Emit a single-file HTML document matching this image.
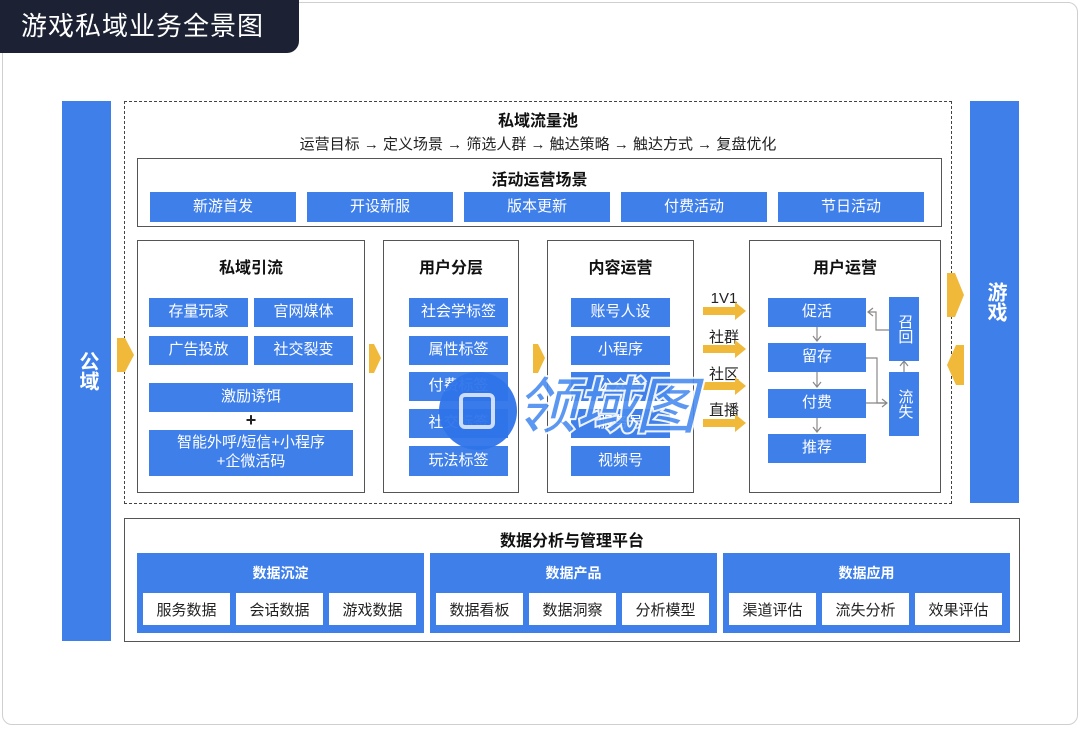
<!DOCTYPE html>
<html><head><meta charset="utf-8"><style>
*{margin:0;padding:0;box-sizing:border-box}
body{width:1080px;height:729px;background:#fff;position:relative;overflow:hidden;font-family:"Liberation Sans","Noto Sans CJK SC",sans-serif;color:#222}
div{position:absolute}
.b{background:#3f7fea;color:#fff;font-size:15px;display:flex;align-items:center;justify-content:center;text-align:center;line-height:1.25}
.w{background:#fff;color:#222;font-size:15px;display:flex;align-items:center;justify-content:center}
.box{border:1.5px solid #555;background:#fff}
.t{font-weight:bold;font-size:16px;text-align:center;color:#111}
.lab{font-size:15px;color:#222;text-align:center}
</style></head><body>
<div style="left:2px;top:2px;width:1076px;height:723px;border:1.5px solid #cfcfcf;border-radius:10px"></div>
<div style="left:0;top:0;width:299px;height:53px;background:#1c2233;border-radius:0 0 12px 0;color:#fff;font-size:26px;line-height:53px;padding-left:21px;letter-spacing:1px">游戏私域业务全景图</div>

<div class="b" style="left:62px;top:101px;width:49px;height:540px;font-size:20px;font-weight:bold;writing-mode:vertical-rl">公域</div>
<div class="b" style="left:970px;top:101px;width:49px;height:402px;font-size:20px;font-weight:bold;writing-mode:vertical-rl">游戏</div>

<div style="left:124px;top:101px;width:828px;height:403px;border:1.5px dashed #444"></div>
<div class="t" style="left:124px;top:107px;width:828px">私域流量池</div>
<div class="lab" style="left:124px;top:133px;width:828px">运营目标 → 定义场景 → 筛选人群 → 触达策略 → 触达方式 → 复盘优化</div>

<div class="box" style="left:137px;top:158px;width:805px;height:69px"></div>
<div class="t" style="left:137px;top:166px;width:805px">活动运营场景</div>
<div class="b" style="left:150px;top:192px;width:146px;height:30px">新游首发</div>
<div class="b" style="left:307px;top:192px;width:146px;height:30px">开设新服</div>
<div class="b" style="left:464px;top:192px;width:146px;height:30px">版本更新</div>
<div class="b" style="left:621px;top:192px;width:146px;height:30px">付费活动</div>
<div class="b" style="left:778px;top:192px;width:146px;height:30px">节日活动</div>

<div class="box" style="left:137px;top:240px;width:228px;height:253px"></div>
<div class="t" style="left:137px;top:254px;width:228px">私域引流</div>
<div class="b" style="left:149px;top:298px;width:99px;height:29px">存量玩家</div>
<div class="b" style="left:254px;top:298px;width:99px;height:29px">官网媒体</div>
<div class="b" style="left:149px;top:336px;width:99px;height:29px">广告投放</div>
<div class="b" style="left:254px;top:336px;width:99px;height:29px">社交裂变</div>
<div class="b" style="left:149px;top:383px;width:204px;height:29px">激励诱饵</div>
<div style="left:149px;top:410px;width:204px;text-align:center;font-size:18px;font-weight:bold">+</div>
<div class="b" style="left:149px;top:430px;width:204px;height:46px">智能外呼/短信+小程序<br>+企微活码</div>

<div class="box" style="left:383px;top:240px;width:136px;height:253px"></div>
<div class="t" style="left:383px;top:254px;width:136px">用户分层</div>
<div class="b" style="left:409px;top:298px;width:99px;height:29px">社会学标签</div>
<div class="b" style="left:409px;top:336px;width:99px;height:29px">属性标签</div>
<div class="b" style="left:409px;top:372px;width:99px;height:29px">付费标签</div>
<div class="b" style="left:409px;top:409px;width:99px;height:29px">社交标签</div>
<div class="b" style="left:409px;top:446px;width:99px;height:30px">玩法标签</div>

<div class="box" style="left:547px;top:240px;width:147px;height:253px"></div>
<div class="t" style="left:547px;top:254px;width:147px">内容运营</div>
<div class="b" style="left:571px;top:298px;width:99px;height:29px">账号人设</div>
<div class="b" style="left:571px;top:336px;width:99px;height:29px">小程序</div>
<div class="b" style="left:571px;top:372px;width:99px;height:29px">公众号</div>
<div class="b" style="left:571px;top:409px;width:99px;height:29px">服务号</div>
<div class="b" style="left:571px;top:446px;width:99px;height:30px">视频号</div>

<div class="lab" style="left:700px;top:290px;width:48px">1V1</div>
<div class="lab" style="left:700px;top:326px;width:48px">社群</div>
<div class="lab" style="left:700px;top:363px;width:48px">社区</div>
<div class="lab" style="left:700px;top:399px;width:48px">直播</div>

<div class="box" style="left:749px;top:240px;width:192px;height:253px"></div>
<div class="t" style="left:749px;top:254px;width:192px">用户运营</div>
<div class="b" style="left:768px;top:298px;width:98px;height:29px">促活</div>
<div class="b" style="left:768px;top:343px;width:98px;height:29px">留存</div>
<div class="b" style="left:768px;top:389px;width:98px;height:29px">付费</div>
<div class="b" style="left:768px;top:434px;width:98px;height:29px">推荐</div>
<div class="b" style="left:889px;top:297px;width:30px;height:64px;writing-mode:vertical-rl">召回</div>
<div class="b" style="left:889px;top:372px;width:30px;height:64px;writing-mode:vertical-rl">流失</div>

<svg style="position:absolute;left:0;top:0" width="1080" height="729">
<g fill="#f0b93a">
<polygon points="703,307 735,307 735,302 746,311 735,320 735,315 703,315"/>
<polygon points="703,345 735,345 735,340 746,349 735,358 735,353 703,353"/>
<polygon points="703,382 735,382 735,377 746,386 735,395 735,390 703,390"/>
<polygon points="703,419 735,419 735,414 746,423 735,432 735,427 703,427"/>
<polygon points="117,338 125,338 134,355 125,372 117,372"/>
<polygon points="369,344 374,344 381,358 374,373 369,373"/>
<polygon points="533,344 538,344 545,358 538,373 533,373"/>
<polygon points="947,273 955,273 964,295 955,317 947,317"/>
<polygon points="964,345 956,345 947,365 956,385 964,385"/>
</g>
<g stroke="#888" stroke-width="1.2" fill="none">
<path d="M817,327 V341 M813,336 L817,341 L821,336"/>
<path d="M817,372 V387 M813,382 L817,387 L821,382"/>
<path d="M817,418 V432 M813,427 L817,432 L821,427"/>
<path d="M889,330 H876 V312 H868 M873,308 L868,312 L873,316"/>
<path d="M866,358 H877 V403 H887 M882,399 L887,403 L882,407"/>
<path d="M866,403 H887"/>
<path d="M904,372 V362 M900,366 L904,361 L908,366"/>
</g>
</svg>

<div class="box" style="left:124px;top:518px;width:896px;height:124px"></div>
<div class="t" style="left:124px;top:527px;width:896px">数据分析与管理平台</div>
<div class="b" style="left:137px;top:553px;width:287px;height:80px"></div>
<div class="b" style="left:430px;top:553px;width:287px;height:80px"></div>
<div class="b" style="left:723px;top:553px;width:287px;height:80px"></div>
<div style="left:137px;top:563px;width:287px;text-align:center;color:#fff;font-weight:bold;font-size:14px">数据沉淀</div>
<div style="left:430px;top:563px;width:287px;text-align:center;color:#fff;font-weight:bold;font-size:14px">数据产品</div>
<div style="left:723px;top:563px;width:287px;text-align:center;color:#fff;font-weight:bold;font-size:14px">数据应用</div>
<div class="w" style="left:143px;top:593px;width:87px;height:32px">服务数据</div>
<div class="w" style="left:236px;top:593px;width:87px;height:32px">会话数据</div>
<div class="w" style="left:329px;top:593px;width:87px;height:32px">游戏数据</div>
<div class="w" style="left:436px;top:593px;width:87px;height:32px">数据看板</div>
<div class="w" style="left:529px;top:593px;width:87px;height:32px">数据洞察</div>
<div class="w" style="left:622px;top:593px;width:87px;height:32px">分析模型</div>
<div class="w" style="left:729px;top:593px;width:87px;height:32px">渠道评估</div>
<div class="w" style="left:822px;top:593px;width:87px;height:32px">流失分析</div>
<div class="w" style="left:915px;top:593px;width:87px;height:32px">效果评估</div>

<div style="left:439px;top:372px;width:78px;height:78px;border-radius:50%;background:#2f74ea;opacity:.95"></div>
<div style="left:459px;top:393px;width:36px;height:36px;border:4px solid #dfe9fb;border-radius:6px;opacity:.9"></div>
<div style="left:515px;top:368px;font-size:62px;font-weight:bold;font-style:italic;color:#4b8cf0;opacity:.9;-webkit-text-stroke:2px #fff;letter-spacing:-2px;line-height:80px">领域图</div>
</body></html>
